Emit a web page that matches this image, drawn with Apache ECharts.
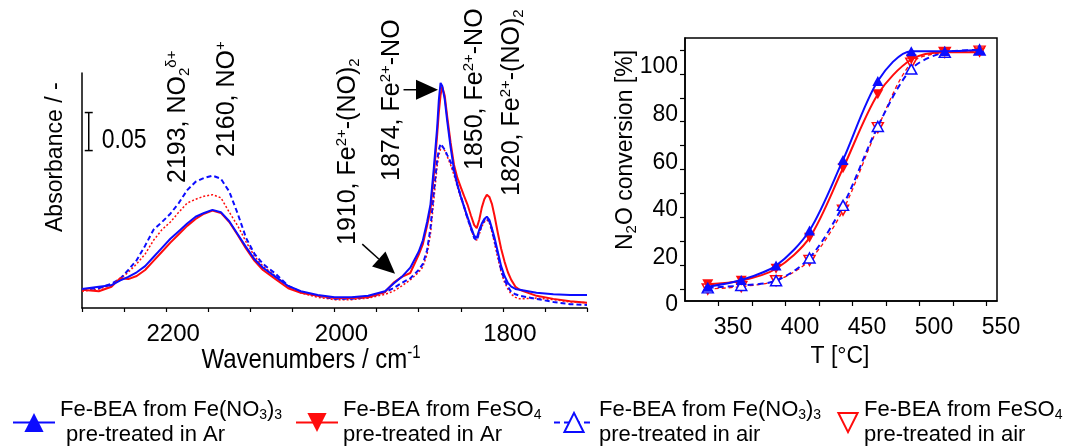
<!DOCTYPE html>
<html>
<head>
<meta charset="utf-8">
<script src="https://cdn.jsdelivr.net/npm/echarts@6/dist/echarts.min.js"></script>
<style>
  html, body { margin: 0; padding: 0; background: #fff; }
  #chart { width: 1085px; height: 448px; }
</style>
</head>
<body>
<div id="chart"></div>
<script>
// ---------- IR spectra of adsorbed NO (wavenumber in cm-1, absorbance) ----------
const wavenumbers = [2300, 2280, 2265, 2255, 2245, 2235, 2225, 2215, 2205, 2195, 2185, 2175, 2165, 2155, 2145, 2135, 2125, 2115, 2105, 2095, 2085, 2070, 2055, 2040,
  2020, 2000, 1980, 1960, 1940, 1930, 1920, 1910,
  1900, 1895, 1890, 1886, 1882, 1878, 1876, 1874, 1872, 1869, 1866, 1862, 1858, 1854, 1850, 1846, 1842, 1838, 1834, 1831, 1828, 1825, 1822, 1819, 1816, 1813, 1810, 1806, 1802, 1798, 1794, 1790, 1785, 1780,
  1760, 1740, 1720, 1700];

const absNitrateAr = [0.025, 0.028, 0.030, 0.036, 0.041, 0.047, 0.055, 0.067, 0.079, 0.091, 0.101, 0.111, 0.120, 0.125, 0.129, 0.126, 0.114, 0.097, 0.080, 0.064, 0.053, 0.041, 0.029, 0.022,
  0.017, 0.014, 0.014, 0.016, 0.022, 0.032, 0.041, 0.053,
  0.074, 0.089, 0.113, 0.136, 0.184, 0.238, 0.274, 0.296, 0.292, 0.274, 0.245, 0.211, 0.182, 0.162, 0.147, 0.133, 0.120, 0.107, 0.095, 0.092, 0.103, 0.111, 0.117, 0.120, 0.116, 0.105, 0.093, 0.074, 0.055, 0.042, 0.033, 0.028, 0.025, 0.024,
  0.020, 0.018, 0.017, 0.017];

const absSulfateAr = [0.024, 0.022, 0.028, 0.039, 0.038, 0.042, 0.050, 0.062, 0.074, 0.086, 0.097, 0.108, 0.117, 0.124, 0.128, 0.125, 0.113, 0.096, 0.078, 0.062, 0.050, 0.038, 0.026, 0.020,
  0.016, 0.013, 0.013, 0.014, 0.021, 0.033, 0.041, 0.046,
  0.070, 0.084, 0.108, 0.129, 0.175, 0.228, 0.258, 0.280, 0.291, 0.279, 0.251, 0.217, 0.188, 0.171, 0.159, 0.147, 0.136, 0.122, 0.109, 0.105, 0.116, 0.132, 0.143, 0.149, 0.146, 0.137, 0.122, 0.099, 0.078, 0.061, 0.047, 0.037, 0.028, 0.024,
  0.016, 0.012, 0.009, 0.007];

const absNitrateAir = [0.024, 0.026, 0.032, 0.038, 0.050, 0.063, 0.082, 0.103, 0.113, 0.124, 0.138, 0.155, 0.166, 0.171, 0.174, 0.170, 0.153, 0.124, 0.092, 0.071, 0.058, 0.045, 0.029, 0.021,
  0.016, 0.012, 0.012, 0.014, 0.021, 0.026, 0.033, 0.039,
  0.050, 0.058, 0.076, 0.105, 0.153, 0.195, 0.208, 0.216, 0.213, 0.208, 0.201, 0.192, 0.179, 0.162, 0.147, 0.133, 0.118, 0.105, 0.092, 0.089, 0.100, 0.109, 0.116, 0.118, 0.114, 0.103, 0.089, 0.071, 0.050, 0.037, 0.028, 0.021, 0.018, 0.016,
  0.012, 0.008, 0.005, 0.004];

const absSulfateAir = [0.022, 0.025, 0.030, 0.038, 0.047, 0.058, 0.071, 0.089, 0.103, 0.113, 0.126, 0.138, 0.143, 0.147, 0.149, 0.145, 0.126, 0.108, 0.087, 0.068, 0.055, 0.042, 0.028, 0.020,
  0.014, 0.011, 0.011, 0.013, 0.018, 0.022, 0.029, 0.037,
  0.047, 0.054, 0.071, 0.097, 0.142, 0.187, 0.201, 0.209, 0.212, 0.207, 0.199, 0.188, 0.175, 0.159, 0.145, 0.132, 0.117, 0.104, 0.092, 0.089, 0.097, 0.107, 0.113, 0.116, 0.112, 0.100, 0.086, 0.066, 0.047, 0.034, 0.025, 0.018, 0.014, 0.012,
  0.013, 0.011, 0.008, 0.007];

// absorbance scale bar: wavenumber position, lower end, length
const scaleBarWn = 2292;
const scaleBarLow = 0.207;
const scaleBarSize = 0.05;

// ---------- N2O conversion vs temperature ----------
const temperatures = [331, 356, 382, 407, 432, 458, 483, 508, 534];
const convNitrateAr = [8, 10.8, 16.8, 31.5, 61, 94, 106.5, 106.5, 107];
const convSulfateAr = [9, 10.5, 15.5, 28.5, 57.5, 88.5, 103, 106, 106];
const convNitrateAir = [7.5, 8.5, 10.5, 20, 42, 75, 99, 106, 107];
const convSulfateAir = [7, 8, 10.5, 19, 40, 74.5, 101.5, 106, 106.5];

const wnLabelStep = 200;
const tempLabelValues = [350, 400, 450, 500, 550];
const tempTickValues = [339, 364, 389, 414, 439, 464, 489, 514, 539];
const convLabelValues = [0, 20, 40, 60, 80, 100];
const convTickValues = [7, 17, 27, 37, 47, 57, 67, 77, 87, 97, 107];

// ---------- styling ----------
const BLUE = '#0c0cff';
const RED = '#ff0c0c';
const SANS = "'Liberation Sans', Arial, sans-serif";
const DOWN_TRIANGLE = 'path://M0,0 L20,0 L10,18 Z';
const UP_TRIANGLE = 'path://M10,0 L20,18 L0,18 Z';

const names = [
  'Fe-BEA from Fe(NO3)3 pre-treated in Ar',
  'Fe-BEA from FeSO4 pre-treated in Ar',
  'Fe-BEA from Fe(NO3)3 pre-treated in air',
  'Fe-BEA from FeSO4 pre-treated in air'
];
const legendText = {};
legendText[names[0]] = '{t|Fe-BEA from Fe(NO}{sub|3}{t|)}{sub|3}\n{t| pre-treated in Ar}';
legendText[names[1]] = '{t|Fe-BEA from FeSO}{sub|4}\n{t|pre-treated in Ar}';
legendText[names[2]] = '{t|Fe-BEA from Fe(NO}{sub|3}{t|)}{sub|3}\n{t|pre-treated in air}';
legendText[names[3]] = '{t|Fe-BEA from FeSO}{sub|4}\n{t|pre-treated in air}';

const pair = (xs, ys) => xs.map((x, i) => [x, ys[i]]);

const chart = echarts.init(document.getElementById('chart'), null, { renderer: 'canvas' });

const axisBlack = { lineStyle: { color: '#000', width: 1.5 } };

const conversionSeries = [
  { name: names[0], data: pair(temperatures, convNitrateAr), symbol: UP_TRIANGLE, symbolSize: [11, 10],
    lineStyle: { color: BLUE, width: 2 }, itemStyle: { color: BLUE }, z: 6 },
  { name: names[1], data: pair(temperatures, convSulfateAr), symbol: DOWN_TRIANGLE, symbolSize: [11, 10],
    lineStyle: { color: RED, width: 2 }, itemStyle: { color: RED }, z: 5 },
  { name: names[2], data: pair(temperatures, convNitrateAir), symbol: UP_TRIANGLE, symbolSize: [11, 10],
    lineStyle: { color: BLUE, width: 2, type: [6, 4] }, itemStyle: { color: '#fff', borderColor: BLUE, borderWidth: 1.5 }, z: 4 },
  { name: names[3], data: pair(temperatures, convSulfateAir), symbol: DOWN_TRIANGLE, symbolSize: [11, 10],
    lineStyle: { color: RED, width: 1.3, type: [4, 3] }, itemStyle: { color: '#fff', borderColor: RED, borderWidth: 1.5 }, z: 3 }
].map(s => Object.assign({ type: 'line', xAxisIndex: 1, yAxisIndex: 1, smooth: 0.3, showSymbol: true, animation: false }, s));

const spectrumSeries = [
  { name: names[3], data: pair(wavenumbers, absSulfateAir), lineStyle: { color: RED, width: 1.5, type: [2, 2] }, z: 2 },
  { name: names[2], data: pair(wavenumbers, absNitrateAir), lineStyle: { color: BLUE, width: 2, type: [5, 3] }, z: 3 },
  { name: names[1], data: pair(wavenumbers, absSulfateAr), lineStyle: { color: RED, width: 2 }, z: 4 },
  { name: names[0], data: pair(wavenumbers, absNitrateAr), lineStyle: { color: BLUE, width: 2 }, z: 5 }
].map(s => Object.assign({ type: 'line', xAxisIndex: 0, yAxisIndex: 0, symbol: 'none', clip: false, animation: false }, s));

const scaleBarSeries = {
  type: 'custom', xAxisIndex: 0, yAxisIndex: 0, silent: true, animation: false, z: 6,
  data: [[scaleBarWn, scaleBarLow, scaleBarLow + scaleBarSize]],
  renderItem(params, api) {
    const lo = api.coord([api.value(0), api.value(1)]);
    const hi = api.coord([api.value(0), api.value(2)]);
    const cap = 4;
    const st = { stroke: '#000', lineWidth: 1.5 };
    return {
      type: 'group',
      children: [
        { type: 'line', shape: { x1: lo[0], y1: lo[1], x2: hi[0], y2: hi[1] }, style: st },
        { type: 'line', shape: { x1: lo[0] - cap, y1: lo[1], x2: lo[0] + cap, y2: lo[1] }, style: st },
        { type: 'line', shape: { x1: hi[0] - cap, y1: hi[1], x2: hi[0] + cap, y2: hi[1] }, style: st },
        { type: 'text', x: lo[0] + 13, y: lo[1] - 10, scaleY: 1.18,
          style: { text: String(scaleBarSize), fill: '#000', font: '23px ' + SANS, verticalAlign: 'middle', align: 'left' } }
      ]
    };
  }
};

const legendLefts = [12, 295, 553, 836];
const legendWidths = [42, 42, 40, 22];
const legendRich = {
  t: { fontSize: 22, fontFamily: SANS, lineHeight: 25, color: '#000' },
  sub: { fontSize: 14, fontFamily: SANS, lineHeight: 14, verticalAlign: 'bottom', color: '#000' }
};

const option = {
  animation: false,
  backgroundColor: '#fff',
  grid: [
    { left: 82, top: 73, width: 505, height: 235 },                                   // spectra
    { left: 685, top: 38, width: 312, height: 263, show: true, borderColor: '#000', borderWidth: 1.5 }, // conversion
    { left: 666, top: 38, width: 335, height: 263 },                                  // temperature labels
    { left: 685, top: 67, width: 312, height: 238 }                                   // conversion labels
  ],
  xAxis: [
    { type: 'value', gridIndex: 0, min: 1700, max: 2300, interval: 50, inverse: true,
      axisLine: axisBlack, splitLine: { show: false },
      axisTick: { show: true, length: 4, lineStyle: { color: '#000', width: 1.2 } },
      axisLabel: { margin: 14, color: '#000', fontSize: 24, fontFamily: SANS, padding: [0, 0, 0, 14],
        formatter: v => (v % wnLabelStep === 0 ? String(v) : '') } },
    { type: 'value', gridIndex: 1, min: 314, max: 547,
      axisLine: axisBlack, splitLine: { show: false },
      axisTick: { show: true, length: 5, customValues: tempTickValues, lineStyle: { color: '#000', width: 1.2 } },
      axisLabel: { show: false } },
    { type: 'value', gridIndex: 2, min: 300, max: 550,
      axisLine: { show: false }, axisTick: { show: false }, splitLine: { show: false },
      axisLabel: { customValues: tempLabelValues, margin: 15, color: '#000', fontSize: 23, fontFamily: SANS } },
    { type: 'value', gridIndex: 3, min: 0, max: 1, show: false }
  ],
  yAxis: [
    { type: 'value', gridIndex: 0, min: 0, max: 0.309,
      axisLine: { show: true, lineStyle: { color: '#000', width: 1.5 } },
      axisTick: { show: false }, axisLabel: { show: false }, splitLine: { show: false } },
    { type: 'value', gridIndex: 1, min: 2, max: 112,
      axisLine: { show: true, lineStyle: { color: '#000', width: 1.5 } }, splitLine: { show: false },
      axisTick: { show: true, length: 5, customValues: convTickValues, lineStyle: { color: '#000', width: 1.2 } },
      axisLabel: { show: false } },
    { type: 'value', gridIndex: 2, min: 0, max: 1, show: false },
    { type: 'value', gridIndex: 3, min: 0, max: 100,
      axisLine: { show: false }, axisTick: { show: false }, splitLine: { show: false },
      axisLabel: { customValues: convLabelValues, margin: 7, color: '#000', fontSize: 23, fontFamily: SANS } }
  ],
  legend: names.map((n, i) => ({
    data: [i === 3 ? { name: n, lineStyle: { opacity: 0 } } : n],
    left: legendLefts[i], top: 399, padding: 0,
    itemWidth: legendWidths[i], itemHeight: 24, selectedMode: false,
    formatter: name => legendText[name],
    textStyle: { rich: legendRich }
  })),
  series: [...conversionSeries, ...spectrumSeries, scaleBarSeries]
};

chart.setOption(option);

// ---------- texts and arrows ----------
const richV = {
  t: { fontSize: 25, fontFamily: SANS, lineHeight: 28, color: '#000' },
  sup: { fontSize: 15, fontFamily: SANS, lineHeight: 15, verticalAlign: 'top', color: '#000' },
  sub: { fontSize: 15, fontFamily: SANS, lineHeight: 15, verticalAlign: 'bottom', color: '#000' }
};
function vText(x, y, text, size) {
  const rich = size ? Object.assign({}, richV, { t: Object.assign({}, richV.t, { fontSize: size }) }) : richV;
  return { type: 'text', x, y, rotation: Math.PI / 2, silent: true, z: 10,
    style: { text, rich, x: 0, y: 0, align: 'left', verticalAlign: 'middle' } };
}

const annotations = [
  vText(56, 232, '{t|Absorbance / -}', 23),
  vText(178, 183, '{t|2193, NO}{sub|2}{sup|δ+}'),
  vText(227, 157, '{t|2160, NO}{sup|+}'),
  vText(348, 245, '{t|1910, Fe}{sup|2+}{t|-(NO)}{sub|2}'),
  vText(392, 181, '{t|1874, Fe}{sup|2+}{t|-NO}'),
  vText(475, 170, '{t|1850, Fe}{sup|2+}{t|-NO}'),
  vText(512, 196, '{t|1820, Fe}{sup|2+}{t|-(NO)}{sub|2}'),
  { type: 'text', x: 311, y: 360, scaleY: 1.18, silent: true,
    style: { text: '{t|Wavenumbers / cm}{sup|-1}', align: 'center', verticalAlign: 'middle',
      rich: { t: { fontSize: 24, fontFamily: SANS, lineHeight: 26, color: '#000' },
              sup: { fontSize: 15, fontFamily: SANS, lineHeight: 15, verticalAlign: 'top', color: '#000' } } } },
  { type: 'text', x: 626, y: 150, rotation: Math.PI / 2, silent: true,
    style: { text: '{t|N}{sub|2}{t|O conversion [%]}', align: 'center', verticalAlign: 'middle',
      rich: { t: { fontSize: 23, fontFamily: SANS, lineHeight: 26, color: '#000' },
              sub: { fontSize: 15, fontFamily: SANS, lineHeight: 15, verticalAlign: 'bottom', color: '#000' } } } },
  { type: 'text', x: 840, y: 357, silent: true,
    style: { text: 'T [°C]', align: 'center', verticalAlign: 'middle', fill: '#000', font: '23px ' + SANS } }
];

// arrows in spectrum coordinates (wavenumber, absorbance)
const arrows = [
  { from: [1918, 0.287], to: [1877, 0.287] },
  { from: [1967, 0.084], to: [1928, 0.045] }
];
const arrowShapes = [];
arrows.forEach(a => {
  const p0 = chart.convertToPixel({ xAxisIndex: 0, yAxisIndex: 0 }, a.from);
  const p1 = chart.convertToPixel({ xAxisIndex: 0, yAxisIndex: 0 }, a.to);
  const dx = p1[0] - p0[0], dy = p1[1] - p0[1];
  const len = Math.sqrt(dx * dx + dy * dy);
  const ux = dx / len, uy = dy / len;
  const headLen = 22, headHalf = 10;
  const bx = p1[0] - ux * headLen, by = p1[1] - uy * headLen;
  arrowShapes.push({ type: 'line', silent: true, z: 10,
    shape: { x1: p0[0], y1: p0[1], x2: bx, y2: by }, style: { stroke: '#000', lineWidth: 1.5 } });
  arrowShapes.push({ type: 'polygon', silent: true, z: 10,
    shape: { points: [[p1[0], p1[1]], [bx - uy * headHalf, by + ux * headHalf], [bx + uy * headHalf, by - ux * headHalf]] },
    style: { fill: '#000' } });
});

chart.setOption({ graphic: [...annotations, ...arrowShapes] });
</script>
</body>
</html>
